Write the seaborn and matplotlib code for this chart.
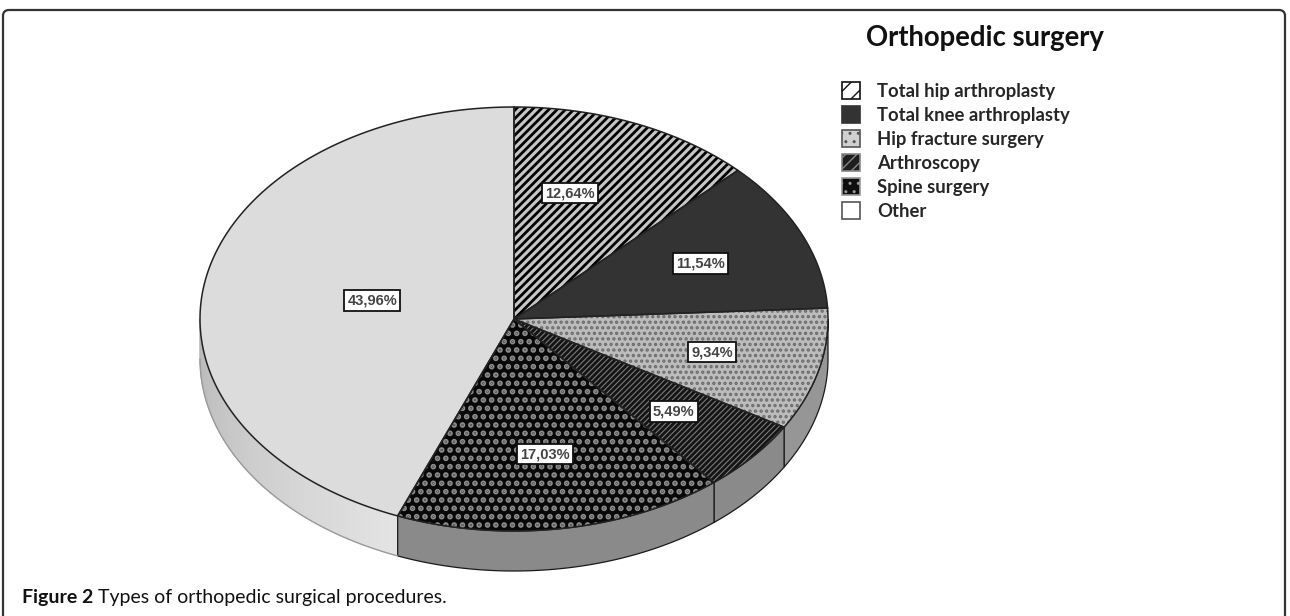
import numpy as np
import matplotlib
matplotlib.use("Agg")
import matplotlib as mpl
import matplotlib.pyplot as plt
from matplotlib.patches import Polygon, Patch, FancyBboxPatch
import seaborn as sns

# Data
categories = ["Total hip arthroplasty", "Total knee arthroplasty", "Hip fracture surgery",
              "Arthroscopy", "Spine surgery", "Other"]
percent = [12.64, 11.54, 9.34, 5.49, 17.03, 43.96]
pct_labels = ["12,64%", "11,54%", "9,34%", "5,49%", "17,03%", "43,96%"]

# Styles per slice
face_col = ["#c6c6c6", "#333333", "#bcbcbc", "#141414", "#080808", "#dcdcdc"]
hatch = ["////", None, "...", "//////", "..", None]
hatch_col = ["#000000", "#333333", "#6c6c6c", "#7a7a7a", "#8c8c8c", "#dcdcdc"]
hatch_lw = [2.0, 1.0, 1.6, 0.8, 2.8, 1.0]
side_col = ["#8e8e8e", "#3a3a3a", "#969696", "#8a8a8a", "#8a8a8a", None]
label_r = [0.62, 0.65, 0.65, 0.67, 0.645, 0.46]
label_dt = [-6, 0, 0, 0, 0, 0]  # degrees nudge

sns.set_theme(style="white")
plt.rcParams['font.family'] = ['Lato', 'DejaVu Sans']

fig = plt.figure(figsize=(12.9, 6.16), dpi=100)
ax = fig.add_axes([0, 0, 1, 1])
ax.set_xlim(0, 1290)
ax.set_ylim(616, 0)
ax.axis('off')

# geometry of the tilted pie (pixels)
cx, cy, rx, ry, depth = 514, 319, 314, 212, 40


def arc(t0, t1, n=200):
    t = np.linspace(t0, t1, n)
    return cx + rx * np.sin(t), cy - ry * np.cos(t)


def hatched(xy, fc, hc, h, lw, z):
    with mpl.rc_context({'hatch.linewidth': lw}):
        p = Polygon(xy, closed=True, facecolor=fc, edgecolor=hc, hatch=h, linewidth=0, zorder=z)
    if hasattr(p, 'set_hatch_linewidth'):
        p.set_hatch_linewidth(lw)
    ax.add_patch(p)


edges = np.concatenate([[0], np.cumsum(percent)]) / 100 * 2 * np.pi

# side walls (only the front half is visible)
for i in range(len(percent)):
    s0 = max(edges[i], np.pi / 2)
    s1 = min(edges[i + 1], 3 * np.pi / 2)
    if s1 <= s0:
        continue
    if side_col[i] is None:
        # shaded wall: lighter to the right
        ts = np.linspace(s0, s1, 41)
        shades = np.linspace(0.89, 0.72, 40)
        for k in range(40):
            x, y = arc(ts[k], ts[k + 1], 6)
            xy = np.column_stack([np.r_[x, x[::-1]], np.r_[y, y[::-1] + depth]])
            g = shades[k]
            ax.add_patch(Polygon(xy, closed=True, facecolor=(g, g, g), edgecolor=(g, g, g),
                                 linewidth=0.6, zorder=1))
        x, y = arc(s0, s1)
        ax.plot(x, y + depth, color="#9a9a9a", lw=1, zorder=2)
    else:
        x, y = arc(s0, s1)
        xy = np.column_stack([np.r_[x, x[::-1]], np.r_[y, y[::-1] + depth]])
        ax.add_patch(Polygon(xy, closed=True, facecolor=side_col[i], edgecolor="#1a1a1a",
                             linewidth=0.9, zorder=2))

# top faces
for i in range(len(percent)):
    x, y = arc(edges[i], edges[i + 1])
    xy = np.column_stack([np.r_[cx, x], np.r_[cy, y]])
    hatched(xy, face_col[i], hatch_col[i], hatch[i], hatch_lw[i], 3)
    ax.add_patch(Polygon(xy, closed=True, fill=False, edgecolor="#222222", linewidth=1.1, zorder=4))

    mid = (edges[i] + edges[i + 1]) / 2 + np.deg2rad(label_dt[i])
    lx = cx + label_r[i] * rx * np.sin(mid)
    ly = cy - label_r[i] * ry * np.cos(mid)
    ax.text(lx, ly, pct_labels[i], ha='center', va='center', fontsize=10.5, fontweight='bold',
            color='#444444', family=['Liberation Sans', 'DejaVu Sans'], zorder=6,
            bbox=dict(boxstyle='square,pad=0.22', fc='white', ec='#111111', lw=1.3))

# legend
handles = []
leg_face = ["white", "#333333", "#d0d0d0", "#1e1e1e", "#0e0e0e", "white"]
leg_edge = ["#111111", "#333333", "#555555", "#888888", "#999999", "#555555"]
leg_hatch = ["//", None, "..", "///", "..", None]
for i in range(len(categories)):
    with mpl.rc_context({'hatch.linewidth': 2.0}):
        handles.append(Patch(facecolor=leg_face[i], edgecolor=leg_edge[i],
                             hatch=leg_hatch[i], linewidth=1.2))
leg = ax.legend(handles, categories, loc='upper left', bbox_to_anchor=(842, 82),
                bbox_transform=ax.transData, frameon=False,
                prop={'family': ['Lato', 'DejaVu Sans'], 'weight': 'bold', 'size': 13.3},
                handlelength=1.0, handleheight=1.0,
                handletextpad=0.9, labelspacing=0.35, borderpad=0, borderaxespad=0)
ax.text(985, 38, "Orthopedic surgery", ha='center', va='center', fontsize=19.8,
        fontweight='bold', color='#111111')

# frame around the figure
ax.add_patch(FancyBboxPatch((3, 10), 1282, 640, boxstyle='round,pad=0,rounding_size=6',
                            fill=False, edgecolor='#333333', linewidth=1.6, zorder=0))

# caption
t1 = ax.text(22, 606, "Figure 2", fontsize=14, fontweight='bold', va='bottom', color='#111111')
ax.annotate(" Types of orthopedic surgical procedures.", xy=(1, 0), xycoords=t1,
            va='bottom', fontsize=14, color='#111111')

plt.savefig("out.png", dpi=100)
plt.close()
